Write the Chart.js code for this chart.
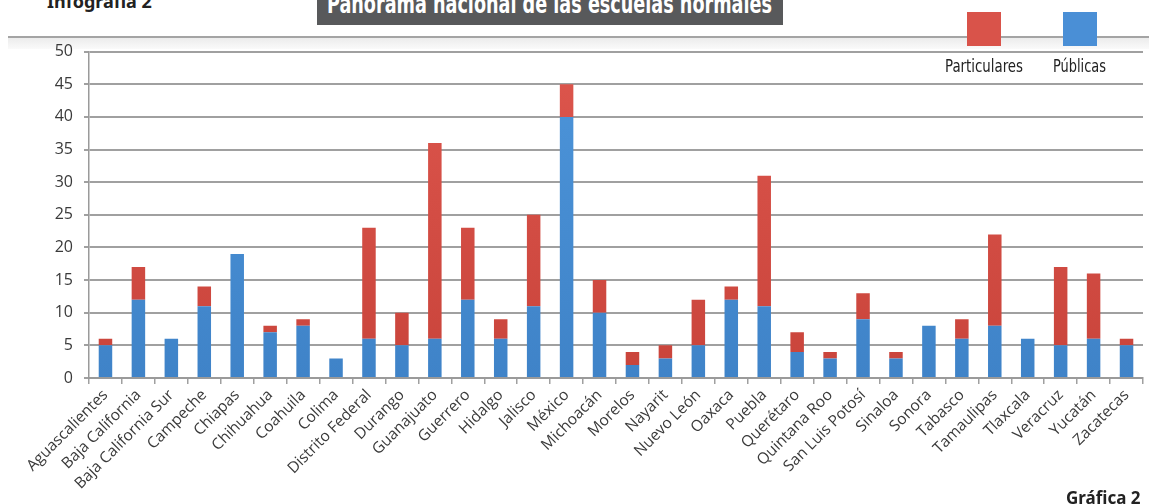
<!DOCTYPE html>
<html lang="es">
<head>
<meta charset="utf-8">
<title>Panorama nacional de las escuelas normales</title>
<script src="https://cdn.jsdelivr.net/npm/chart.js@4/dist/chart.umd.min.js"></script>
<style>
  html, body { margin: 0; padding: 0; background: #fff; }
  body { width: 1149px; height: 504px; position: relative; overflow: hidden; font-family: "Open Sans", sans-serif; }
  .cond { font-family: "Liberation Sans Narrow", "DejaVu Sans Condensed", "Roboto", sans-serif; }
  #infografia { position: absolute; left: 47px; top: -11px; font: bold 18px "Noto Sans", sans-serif; color: #222; white-space: nowrap; }
  #titleBox { position: absolute; left: 317px; top: 0; width: 466px; height: 25px; background: #58595b; overflow: hidden; }
  #titleText { position: absolute; left: 10px; top: -11px; font-size: 26px; font-weight: bold; color: #fff; white-space: nowrap; transform-origin: 0 0; line-height: 30px; }
  #sep { position: absolute; left: 8px; right: 0; top: 36px; height: 2px; background: #a4a4a4; }
  #band { position: absolute; left: 8px; right: 0; top: 38px; height: 11px; background: linear-gradient(#ececec, #fafafa); }
  #chartWrap { position: absolute; left: 0; top: 31px; }
  .legSq { position: absolute; top: 12px; width: 34px; height: 34px; }
  .legTx { position: absolute; top: 55px; font-size: 18px; color: #222; white-space: nowrap; transform-origin: 0 0; }
  #grafica { position: absolute; left: 1066px; top: 486px; font: bold 17px "Noto Sans", sans-serif; color: #222; white-space: nowrap; }
</style>
</head>
<body>
<div id="infografia">Infografía 2</div>
<div id="titleBox"><span id="titleText" class="cond">Panorama nacional de las escuelas normales</span></div>
<div id="sep"></div>
<div id="band"></div>
<div id="chartWrap"><canvas id="chart" width="1149" height="473"></canvas></div>
<div class="legSq" style="left:967px;background:#d9534a"></div>
<div class="legSq" style="left:1063px;background:#4a8fd6"></div>
<div class="legTx cond" id="legPart" style="left:945px">Particulares</div>
<div class="legTx cond" id="legPub" style="left:1053px">Públicas</div>
<div id="grafica">Gráfica 2</div>

<script>
const estados = [
  "Aguascalientes", "Baja California", "Baja California Sur", "Campeche", "Chiapas",
  "Chihuahua", "Coahuila", "Colima", "Distrito Federal", "Durango", "Guanajuato",
  "Guerrero", "Hidalgo", "Jalisco", "México", "Michoacán", "Morelos", "Nayarit",
  "Nuevo León", "Oaxaca", "Puebla", "Querétaro", "Quintana Roo", "San Luis Potosí",
  "Sinaloa", "Sonora", "Tabasco", "Tamaulipas", "Tlaxcala", "Veracruz", "Yucatán", "Zacatecas"
];
const publicas =     [5, 12, 6, 11, 19, 7, 8, 3, 6, 5, 6, 12, 6, 11, 40, 10, 2, 3, 5, 12, 11, 4, 3, 9, 3, 8, 6, 8, 6, 5, 6, 5];
const particulares = [1, 5, 0, 3, 0, 1, 1, 0, 17, 5, 30, 11, 3, 14, 5, 5, 2, 2, 7, 2, 20, 3, 1, 4, 1, 0, 3, 14, 0, 12, 10, 1];
const yTicks = [0, 5, 10, 15, 20, 25, 30, 35, 40, 45, 50];

// squeeze condensed texts to the widths in the original
function fitWidth(id, w) {
  const el = document.getElementById(id);
  const cur = el.getBoundingClientRect().width;
  el.style.transform = "scaleX(" + (w / cur) + ")";
}
fitWidth("titleText", 445);
fitWidth("legPart", 78);
fitWidth("legPub", 53);

// vertical gradient, lighter at top
function barGradient(light, dark) {
  return function(context) {
    const chart = context.chart;
    const area = chart.chartArea;
    if (!area) return light;
    const g = chart.ctx.createLinearGradient(0, area.top, 0, area.bottom);
    g.addColorStop(0, light);
    g.addColorStop(1, dark);
    return g;
  };
}

const ctx = document.getElementById("chart").getContext("2d");
const gridColor = "#a0a0a0";

new Chart(ctx, {
  type: "bar",
  data: {
    labels: estados,
    datasets: [
      {
        label: "Públicas",
        data: publicas,
        backgroundColor: barGradient("#4d95da", "#3f83c8"),
        borderWidth: 0,
        barPercentage: 0.41,
        categoryPercentage: 1
      },
      {
        label: "Particulares",
        data: particulares,
        backgroundColor: barGradient("#dd564d", "#c9443b"),
        borderWidth: 0,
        barPercentage: 0.41,
        categoryPercentage: 1
      }
    ]
  },
  options: {
    responsive: false,
    animation: false,
    devicePixelRatio: 1,
    layout: { padding: { top: 0, right: 6, left: 0, bottom: 0 } },
    plugins: {
      legend: { display: false },
      tooltip: { enabled: false }
    },
    scales: {
      x: {
        stacked: true,
        afterFit: function(scale) { scale.height = 126; },
        grid: {
          offset: true,
          drawOnChartArea: false,
          drawTicks: true,
          tickLength: 6,
          color: gridColor,
          lineWidth: 1.5
        },
        border: { color: "#9a9a9a", width: 2 },
        ticks: {
          autoSkip: false,
          minRotation: 45,
          maxRotation: 45,
          padding: 2,
          color: "#3a3a3a",
          font: { family: "Open Sans", size: 15.5 }
        }
      },
      y: {
        stacked: true,
        min: 0,
        max: 50,
        afterFit: function(scale) { scale.width = 89; },
        afterBuildTicks: function(scale) { scale.ticks = yTicks.map(v => ({ value: v })); },
        grid: {
          color: gridColor,
          lineWidth: 2,
          tickLength: 5
        },
        border: { color: "#9a9a9a", width: 1.5 },
        ticks: {
          padding: 11,
          color: "#3a3a3a",
          font: { family: "Open Sans", size: 16 }
        }
      }
    }
  }
});
</script>
</body>
</html>
